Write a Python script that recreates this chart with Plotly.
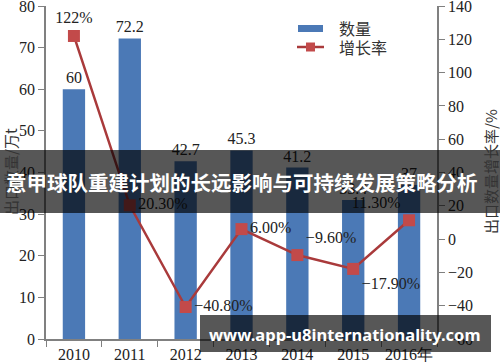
import plotly.graph_objects as go

years = ["2010", "2011", "2012", "2013", "2014", "2015", "2016年"]
quantity = [60, 72.2, 42.7, 45.3, 41.2, 33.4, 37]
quantity_labels = ["60", "72.2", "42.7", "45.3", "41.2", "33.4", "37"]
growth = [122, 20.3, -40.8, 6.0, -9.6, -17.9, 11.3]
growth_labels = ["122%", "20.30%", "\u221240.80%", "6.00%", "\u22129.60%", "\u221217.90%", "11.30%"]
growth_textpos = ["top center", "middle right", "middle right", "middle right",
                  "top right", "bottom right", "top left"]

W, H = 500, 362
L, R, T, B = 46, 437, 6, 339


def xp(px):
    return (px - L) / (R - L)


def yp(py):
    return (B - py) / (B - T)


BAR_COLOR = "#4b79b6"
LINE_COLOR = "#a93a3b"
MARK_COLOR = "#c24a4a"
AX_COLOR = "#808080"
SERIF = "Liberation Serif"
CJK = "Noto Sans CJK SC"

fig = go.Figure()
fig.add_trace(go.Bar(
    x=years, y=quantity, width=0.4, marker=dict(color=BAR_COLOR, line=dict(width=0)),
    text=quantity_labels, textposition="outside", cliponaxis=False, constraintext="none",
    textfont=dict(family=SERIF, size=16, color="#222"), showlegend=False,
))
fig.add_trace(go.Scatter(
    x=years, y=growth, yaxis="y2", mode="lines+markers+text",
    line=dict(color=LINE_COLOR, width=2.5),
    marker=dict(symbol="square", size=12, color=MARK_COLOR),
    text=growth_labels, textposition=growth_textpos, cliponaxis=False,
    textfont=dict(family=SERIF, size=16, color="#222"), showlegend=False,
))

axis_common = dict(showline=True, linecolor=AX_COLOR, linewidth=1.5, ticks="outside",
                   tickcolor=AX_COLOR, ticklen=6, showgrid=False, zeroline=False,
                   tickangle=0, automargin=False,
                   tickfont=dict(family=SERIF, size=16, color="#222"))

fig.update_layout(
    width=W, height=H,
    margin=dict(l=L, r=W - R, t=T, b=H - B),
    paper_bgcolor="white", plot_bgcolor="white",
    xaxis=dict(type="category", tickson="boundaries", **axis_common),
    yaxis=dict(range=[0, 80.001], tick0=0, dtick=10, **axis_common),
    yaxis2=dict(range=[-60, 140.002], tick0=0, dtick=20, overlaying="y", side="right", **axis_common),
)

shapes = []
annotations = []

# axis titles
annotations.append(dict(xref="paper", yref="paper", x=xp(10), y=yp(172), text="出口数量/万t",
                        textangle=-90, showarrow=False, xanchor="center", yanchor="middle",
                        font=dict(family=CJK, size=15, color="#333")))
annotations.append(dict(xref="paper", yref="paper", x=xp(490), y=yp(172), text="出口数量增长率/%",
                        textangle=-90, showarrow=False, xanchor="center", yanchor="middle",
                        font=dict(family=CJK, size=15, color="#333")))

# custom legend
shapes.append(dict(type="rect", xref="paper", yref="paper", x0=xp(298), x1=xp(323),
                   y0=yp(32), y1=yp(25), fillcolor=BAR_COLOR, line=dict(width=0)))
shapes.append(dict(type="line", xref="paper", yref="paper", x0=xp(297), x1=xp(324),
                   y0=yp(47), y1=yp(47), line=dict(color=LINE_COLOR, width=2.5)))
shapes.append(dict(type="rect", xref="paper", yref="paper", x0=xp(306), x1=xp(315),
                   y0=yp(51.5), y1=yp(42.5), fillcolor=MARK_COLOR, line=dict(width=0)))
annotations.append(dict(xref="paper", yref="paper", x=xp(337), y=yp(28), text="数量",
                        showarrow=False, xanchor="left", yanchor="middle",
                        font=dict(family=CJK, size=16, color="#333")))
annotations.append(dict(xref="paper", yref="paper", x=xp(337), y=yp(47), text="增长率",
                        showarrow=False, xanchor="left", yanchor="middle",
                        font=dict(family=CJK, size=16, color="#333")))

# overlay banners
shapes.append(dict(type="rect", xref="paper", yref="paper", x0=xp(0), x1=xp(500),
                   y0=yp(213), y1=yp(150), fillcolor="rgba(0,0,0,0.66)", line=dict(width=0),
                   layer="above"))
annotations.append(dict(xref="paper", yref="paper", x=xp(242), y=yp(182),
                        text="<b>意甲球队重建计划的长远影响与可持续发展策略分析</b>",
                        showarrow=False, xanchor="center", yanchor="middle",
                        font=dict(family=CJK, size=20.5, color="white")))
shapes.append(dict(type="rect", xref="paper", yref="paper", x0=xp(200), x1=xp(491),
                   y0=yp(352), y1=yp(315), fillcolor="rgba(0,0,0,0.66)", line=dict(width=0),
                   layer="above"))
annotations.append(dict(xref="paper", yref="paper", x=xp(345), y=yp(334),
                        text="<b>www.app-u8internationality.com</b>",
                        showarrow=False, xanchor="center", yanchor="middle",
                        font=dict(family="Noto Sans", size=16.5, color="white")))

fig.update_layout(shapes=shapes, annotations=annotations)
fig.write_html("out.html", config={"displayModeBar": False},
               post_script="document.body.style.margin='0';document.body.style.overflow='hidden';")
